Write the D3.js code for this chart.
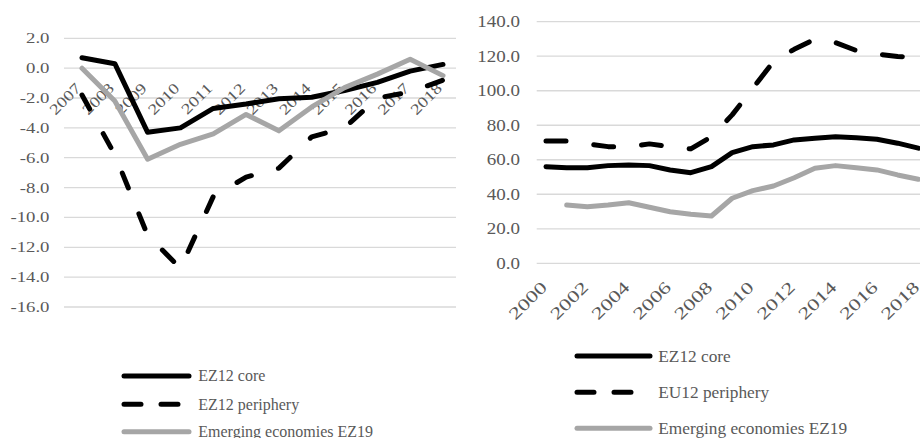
<!DOCTYPE html>
<html><head><meta charset="utf-8">
<script src="https://cdn.jsdelivr.net/npm/d3@7"></script>
<style>html,body{margin:0;padding:0;background:#fff;overflow:hidden}</style>
</head><body>
<svg id="c" width="920" height="438"></svg>
<script>
// ---- Data ----
const leftYears = [2007,2008,2009,2010,2011,2012,2013,2014,2015,2016,2017,2018];
const leftCore = [0.7,0.3,-4.3,-4.0,-2.7,-2.4,-2.05,-1.95,-1.5,-0.95,-0.2,0.25];
const leftPeriphery = [-1.8,-5.8,-11.2,-13.4,-8.6,-7.3,-6.7,-4.6,-4.0,-2.0,-1.6,-0.8];
const leftEmerging = [0.0,-2.2,-6.1,-5.1,-4.4,-3.1,-4.2,-2.6,-1.3,-0.4,0.6,-0.5];
const leftTicks = [2,0,-2,-4,-6,-8,-10,-12,-14,-16];
const leftLegend = ["EZ12 core","EZ12 periphery","Emerging economies EZ19"];

const rightYears = [2000,2001,2002,2003,2004,2005,2006,2007,2008,2009,2010,2011,2012,2013,2014,2015,2016,2017,2018];
const rightCore = [56.0,55.4,55.4,56.6,56.9,56.6,54.1,52.5,56.0,64.1,67.6,68.6,71.5,72.5,73.4,72.8,71.9,69.6,66.7];
const rightPeriphery = [70.9,70.9,69.2,67.6,67.6,69.2,67.6,66.3,73.4,86.0,101.4,116.9,124.0,129.9,127.9,123.3,121.3,119.8,119.4];
const rightEmerging = [null,33.8,32.8,33.8,35.1,32.5,29.9,28.4,27.4,37.7,42.1,44.8,49.6,55.1,56.6,55.4,54.1,51.2,48.7];
const rightTicks = [0,20,40,60,80,100,120,140];
const rightXLabels = [2000,2002,2004,2006,2008,2010,2012,2014,2016,2018];
const rightLegend = ["EZ12 core","EU12 periphery","Emerging economies EZ19"];

// ---- Styles ----
const FONT = "'Liberation Serif','Times New Roman',serif";
const TXT = "#595959", GRID = "#d9d9d9", BLACK = "#000000", GRAY = "#a6a6a6";
const fmt = d3.formatLocale({decimal:".",thousands:",",grouping:[3],currency:["",""],minus:"-"}).format(".1f");

const svg = d3.select("#c");

function panel(o){
  const g = svg.append("g");
  const x = d3.scalePoint().domain(o.years).range(o.xr);
  const y = d3.scaleLinear().domain(o.yd).range(o.yr);
  // grid
  g.selectAll("line.grid").data(o.ticks).join("line")
    .attr("x1",o.gx[0]).attr("x2",o.gx[1])
    .attr("y1",d=>y(d)).attr("y2",d=>y(d))
    .attr("stroke",GRID).attr("stroke-width",1.3);
  // y labels
  g.selectAll("text.yl").data(o.ticks).join("text")
    .attr("transform",d=>`translate(${o.ylx},${y(d)+0.33*o.yfs}) scale(${o.ysx},1)`)
    .attr("text-anchor","end").attr("font-family",FONT).attr("font-size",o.yfs)
    .attr("fill",TXT).text(d=>fmt(d));
  // x labels
  g.selectAll("text.xl").data(o.xlabels).join("text")
    .attr("transform",d=>`translate(${x(d)+o.xdx},${y(o.xAxisAt)+o.xdy}) rotate(-45) scale(${o.xsx},1)`)
    .attr("text-anchor","end").attr("font-family",FONT).attr("font-size",o.xfs)
    .attr("fill",TXT).text(d=>d);
  // lines
  const series = [
    {v:o.core, c:BLACK, dash:null},
    {v:o.periphery, c:BLACK, dash:o.dash},
    {v:o.emerging, c:GRAY, dash:null}
  ];
  series.forEach(s=>{
    const line = d3.line().defined(d=>d[1]!=null).x(d=>x(d[0])).y(d=>y(d[1]));
    g.append("path").datum(o.years.map((yr,i)=>[yr,s.v[i]]))
      .attr("d",line).attr("fill","none").attr("stroke",s.c).attr("stroke-width",5)
      .attr("stroke-linejoin","round").attr("stroke-linecap","round")
      .attr("stroke-dasharray",s.dash);
  });
  // legend
  const lg = g.append("g");
  o.legend.forEach((t,i)=>{
    const s = series[i];
    const ly = o.legY[i];
    lg.append("line").attr("x1",o.legX[0]).attr("x2",o.legX[1]).attr("y1",ly).attr("y2",ly)
      .attr("stroke",s.c).attr("stroke-width",5).attr("stroke-linecap","round")
      .attr("stroke-dasharray", s.dash ? o.legDash : null);
    lg.append("text").attr("x",o.legTx).attr("y",ly+0.33*o.lfs)
      .attr("font-family",FONT).attr("font-size",o.lfs).attr("fill",TXT).text(t);
  });
}

panel({
  years:leftYears, xr:[82,443], yd:[-16,2], yr:[307,38.3], gx:[64,456],
  ticks:leftTicks, ylx:49.5, yfs:15, ysx:1.25,
  xlabels:leftYears, xAxisAt:0, xdx:0, xdy:21, xfs:15, xsx:1.25,
  core:leftCore, periphery:leftPeriphery, emerging:leftEmerging, dash:"16,28",
  legend:leftLegend, legX:[124,189], legY:[376,404.3,431.7], legTx:198.3, lfs:16, legDash:"17,20"
});

panel({
  years:rightYears, xr:[546,918.3], yd:[0,140], yr:[263.3,21.7], gx:[536.7,925],
  ticks:rightTicks, ylx:520, yfs:17, ysx:1.12,
  xlabels:rightXLabels, xAxisAt:0, xdx:2, xdy:25, xfs:17, xsx:1.35,
  core:rightCore, periphery:rightPeriphery, emerging:rightEmerging, dash:"20,28",
  legend:rightLegend, legX:[577,650], legY:[356,392.3,428.3], legTx:658.3, lfs:17.3, legDash:"17,20"
});
</script>
</body></html>
